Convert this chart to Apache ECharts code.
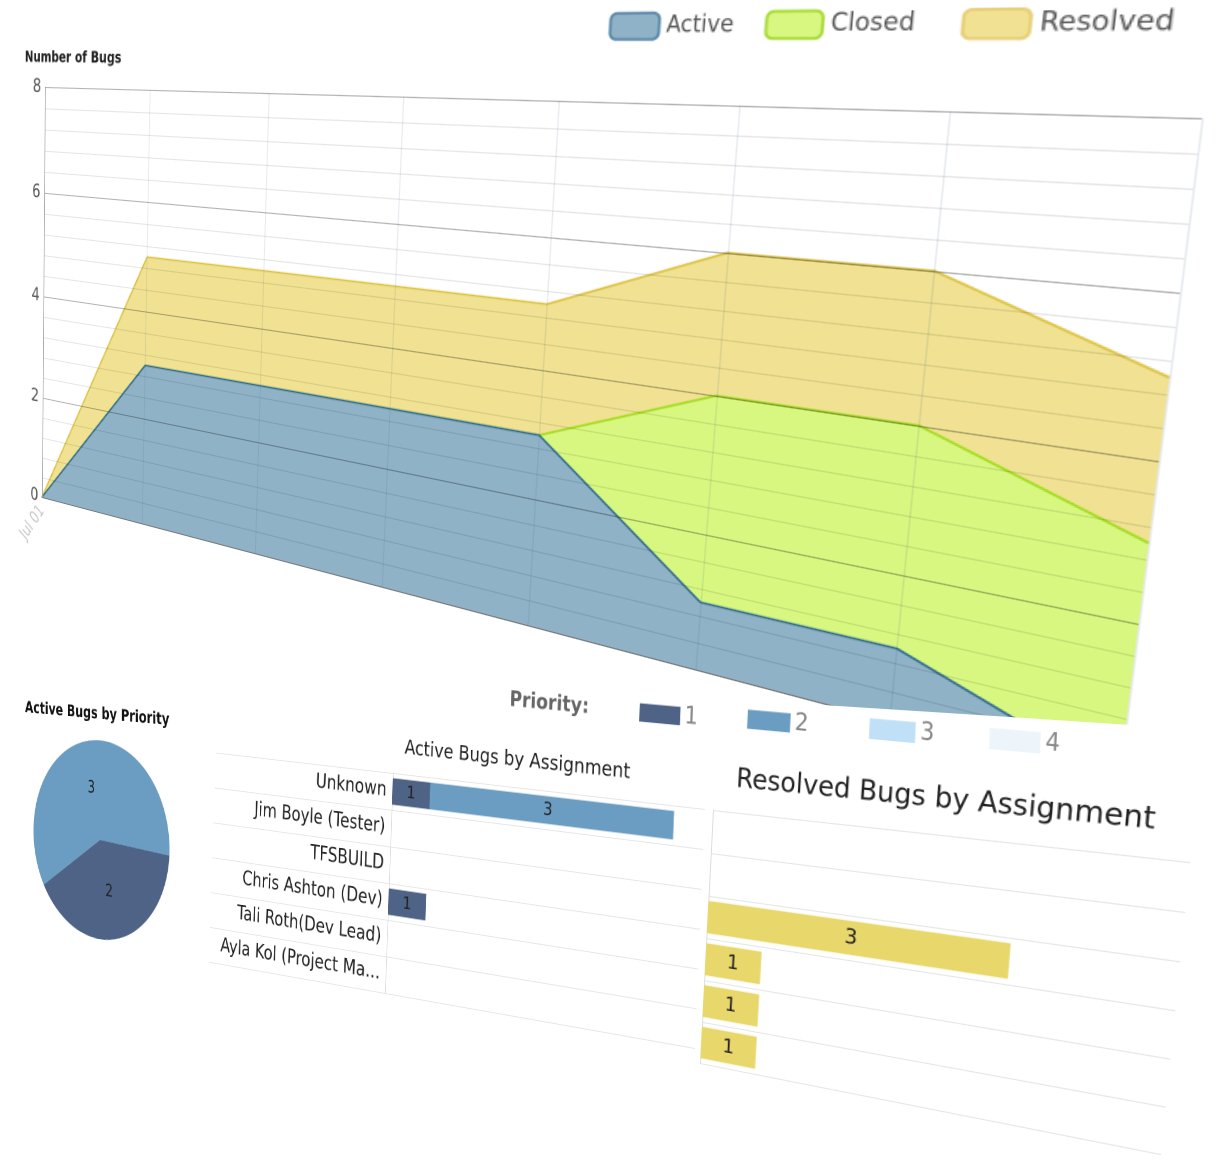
<!DOCTYPE html>
<html lang="en">
<head>
<meta charset="UTF-8">
<title>Bug Status</title>
<script src="https://cdn.jsdelivr.net/npm/echarts@6/dist/echarts.min.js"></script>
<style>
    body { margin: 0; background: #fff; width: 1221px; height: 1173px; overflow: hidden; position: relative; }
    .warp { position: absolute; left: 0; top: 0; transform-origin: 0 0; }
    #panel {
        position: absolute; left: 0; top: 0; width: 1221px; height: 1173px; background: #fff;
        clip-path: polygon(0 652px, 1010px 717px, 1221px 731px, 1221px 1173px, 0 1173px);
    }
</style>
</head>
<body>
<div id="trend" class="warp" style="width:1000px;height:620px"></div>
<div id="panel"></div>
<div id="pie" class="warp" style="width:300px;height:330px"></div>
<div id="active" class="warp" style="width:1120px;height:440px"></div>
<div id="resolved" class="warp" style="width:520px;height:340px"></div>

<script>
    // ---- data ----
    const days = ['Jul 01', 'Jul 02', 'Jul 03', 'Jul 04', 'Jul 05', 'Jul 06', 'Jul 07', 'Jul 08'];
    const activeCounts = [0, 3, 3, 3, 3, 1, 1, 0];
    const closedCounts = [0, 0, 0, 0, 0, 3, 3, 3];
    const resolvedCounts = [0, 2, 2, 2, 2, 2, 2, 2];

    const people = ['Unknown', 'Jim Boyle (Tester)', 'TFSBUILD', 'Chris Ashton (Dev)',
        'Tali Roth(Dev Lead)', 'Ayla Kol (Project Ma...'];
    const priorities = ['1', '2', '3', '4'];
    // active bugs per person, one row per priority
    const activeByPriority = [
        [1, 0, 0, 1, 0, 0],
        [3, 0, 0, 0, 0, 0],
        [0, 0, 0, 0, 0, 0],
        [0, 0, 0, 0, 0, 0]
    ];
    const resolvedByPerson = [0, 0, 3, 1, 1, 1];

    const stateNames = ['Active', 'Closed', 'Resolved'];
    const stateFills = ['#8fb2c7', '#d8f780', '#f0e292'];
    const stateLines = ['#2d6a8e', '#9fdc1a', '#dcc240'];
    const stateBorders = ['#5d8aab', '#a9dc3a', '#e8cf78'];
    const prioColors = ['#4e6386', '#6b9cc1', '#bfe0f7', '#edf5fb'];

    const narrow = "'Liberation Sans Narrow', 'DejaVu Sans Condensed', 'Open Sans', sans-serif";
    const sans = "'DejaVu Sans', Verdana, sans-serif";

    // ---- perspective helpers: map a flat chart onto a quad of the page ----
    function homography(src, dst) {
        const A = [], b = [];
        for (let i = 0; i < 4; i++) {
            const [x, y] = src[i], [X, Y] = dst[i];
            A.push([x, y, 1, 0, 0, 0, -x * X, -y * X]); b.push(X);
            A.push([0, 0, 0, x, y, 1, -x * Y, -y * Y]); b.push(Y);
        }
        for (let c = 0; c < 8; c++) {
            let p = c;
            for (let r = c + 1; r < 8; r++) if (Math.abs(A[r][c]) > Math.abs(A[p][c])) p = r;
            [A[c], A[p]] = [A[p], A[c]];
            [b[c], b[p]] = [b[p], b[c]];
            for (let r = 0; r < 8; r++) {
                if (r === c) continue;
                const f = A[r][c] / A[c][c];
                for (let k = c; k < 8; k++) A[r][k] -= f * A[c][k];
                b[r] -= f * b[c];
            }
        }
        return b.map((v, i) => v / A[i][i]).concat([1]);
    }

    function mapPt(h, x, y) {
        const w = h[6] * x + h[7] * y + 1;
        return [(h[0] * x + h[1] * y + h[2]) / w, (h[3] * x + h[4] * y + h[5]) / w];
    }

    // warps the element and returns the page -> flat mapping
    function warp(el, src, dst) {
        const h = homography(src, dst);
        el.style.transform = 'matrix3d(' +
            [h[0], h[3], 0, h[6], h[1], h[4], 0, h[7], 0, 0, 1, 0, h[2], h[5], 0, 1].join(',') + ')';
        return homography(dst, src);
    }

    function fontAt(inv, x, y, px) {
        return mapPt(inv, x, y + px)[1] - mapPt(inv, x, y)[1];
    }

    function legendAt(inv, name, box, extra) {
        const a = mapPt(inv, box[0], box[1]), b = mapPt(inv, box[2], box[3]);
        return Object.assign({
            data: [name], left: a[0], top: a[1], itemWidth: b[0] - a[0], itemHeight: b[1] - a[1],
            icon: 'roundRect', padding: 0, selectedMode: false
        }, extra);
    }

    function hideZero(p) {
        return p.value > 0 ? p.value : '';
    }

    // ---- bug trend (stacked area) ----
    const trendEl = document.getElementById('trend');
    const trendInv = warp(trendEl,
        [[60, 90], [960, 90], [960, 510], [60, 510]],
        [[45, 87], [1202, 118], [1119, 781], [42, 497]]);
    const trendChart = echarts.init(trendEl, null, {devicePixelRatio: 2});
    const stateBoxes = [[610, 12, 657, 38], [766, 10, 820, 37], [963, 8, 1027, 37]];
    const titlePos = mapPt(trendInv, 25, 50);

    trendChart.setOption({
        animation: false,
        title: {
            text: 'Number of Bugs', left: titlePos[0], top: titlePos[1], padding: 0,
            textStyle: {fontSize: fontAt(trendInv, 25, 50, 15), fontWeight: 'bold', color: '#222', fontFamily: narrow}
        },
        legend: stateNames.map((n, i) => legendAt(trendInv, n, stateBoxes[i], {
            itemStyle: {borderColor: stateBorders[i], borderWidth: 2},
            itemGap: 4,
            textStyle: {fontSize: fontAt(trendInv, 660, 12, 23), color: '#555', fontFamily: narrow}
        })),
        grid: {left: 60, top: 90, width: 900, height: 420},
        xAxis: {
            type: 'category', data: days, boundaryGap: false, z: 5,
            axisLine: {lineStyle: {color: '#777'}},
            axisTick: {show: false},
            axisLabel: {rotate: 55, margin: 12, interval: i => i === 0, color: '#c8c8c8', fontSize: 18, fontFamily: narrow},
            splitLine: {show: true, interval: 0, lineStyle: {color: 'rgba(60,90,130,0.13)'}}
        },
        yAxis: {
            type: 'value', min: 0, max: 8, interval: 2, z: 5,
            axisLine: {show: true, lineStyle: {color: '#aaa'}},
            axisTick: {show: false},
            axisLabel: {color: '#555', fontSize: 19, margin: 5, fontFamily: narrow},
            splitLine: {lineStyle: {color: 'rgba(0,0,0,0.3)'}},
            minorTick: {show: false, splitNumber: 5},
            minorSplitLine: {show: true, lineStyle: {color: 'rgba(0,0,0,0.1)'}}
        },
        series: [activeCounts, closedCounts, resolvedCounts].map((vals, i) => ({
            name: stateNames[i], type: 'line', stack: 'bugs', data: vals,
            z: 4 - i, symbol: 'none', color: stateFills[i],
            lineStyle: {color: stateLines[i], width: 1.5},
            areaStyle: {color: stateFills[i], opacity: 1}
        }))
    });

    // ---- active bugs by priority (pie) ----
    const pieEl = document.getElementById('pie');
    const pieInv = warp(pieEl,
        [[35, 80], [265, 80], [265, 310], [35, 310]],
        [[33, 734], [169, 747], [170, 950], [34, 929]]);
    const pieChart = echarts.init(pieEl, null, {devicePixelRatio: 2});
    const pieTitle = mapPt(pieInv, 25, 700);
    const pieData = priorities.map((p, i) => ({
        name: 'Priority ' + p,
        value: activeByPriority[i].reduce((s, v) => s + v, 0),
        itemStyle: {color: prioColors[i]}
    })).filter(d => d.value > 0);

    pieChart.setOption({
        animation: false,
        title: {
            text: 'Active Bugs by Priority', left: pieTitle[0], top: pieTitle[1], padding: 0,
            textStyle: {fontSize: fontAt(pieInv, 25, 702, 16), fontWeight: 'bold', color: '#111', fontFamily: sans}
        },
        series: [{
            type: 'pie', center: [150, 195], radius: 115, startAngle: -4, clockwise: true,
            data: pieData,
            label: {position: 'inside', formatter: '{c}', color: '#222', fontSize: fontAt(pieInv, 80, 790, 17), fontFamily: sans},
            labelLine: {show: false}
        }]
    });

    // ---- active bugs by assignment (stacked bars) + priority legend ----
    const activeEl = document.getElementById('active');
    const activeInv = warp(activeEl,
        [[260, 180], [660, 180], [660, 420], [260, 420]],
        [[393, 773], [705, 809], [695, 1048], [385, 993]]);
    const activeChart = echarts.init(activeEl, null, {devicePixelRatio: 2});
    const activeTitle = mapPt(activeInv, 405, 738);
    const prioLabel = mapPt(activeInv, 510, 690);
    const prioBoxes = [[640, 700, 680, 722], [748, 707, 790, 730], [870, 716, 915, 741], [990, 726, 1040, 752]];

    activeChart.setOption({
        animation: false,
        title: [{
            text: 'Active Bugs by Assignment', left: activeTitle[0], top: activeTitle[1], padding: 0,
            textStyle: {fontSize: fontAt(activeInv, 405, 740, 20), fontWeight: 'normal', color: '#222', fontFamily: sans}
        }, {
            text: 'Priority:', left: prioLabel[0], top: prioLabel[1], padding: 0,
            textStyle: {fontSize: fontAt(activeInv, 510, 692, 21), fontWeight: 'bold', color: '#666', fontFamily: sans}
        }],
        legend: priorities.map((p, i) => legendAt(activeInv, p, prioBoxes[i], {
            icon: 'rect', itemGap: 6,
            textStyle: {fontSize: fontAt(activeInv, prioBoxes[i][2], prioBoxes[i][1], 25), color: '#888', fontFamily: sans}
        })),
        grid: [
            {left: 260, top: 180, width: 400, height: 240},
            {left: -10, top: 180, width: 670, height: 240}
        ],
        xAxis: [
            {gridIndex: 0, type: 'value', min: 0.5, max: 4.35, show: false},
            {gridIndex: 1, type: 'value', show: false}
        ],
        yAxis: [{
            gridIndex: 0, type: 'category', data: people, inverse: true,
            axisLine: {lineStyle: {color: '#dcdcdc'}},
            axisTick: {show: false},
            splitLine: {show: false},
            axisLabel: {fontSize: fontAt(activeInv, 370, 780, 20), color: '#222', margin: 8, fontFamily: sans}
        }, {
            gridIndex: 1, type: 'category', data: people, inverse: true,
            axisLine: {show: false}, axisTick: {show: false}, axisLabel: {show: false},
            splitLine: {show: true, lineStyle: {color: '#e6e6e6'}}
        }],
        series: priorities.map((p, i) => ({
            name: p, type: 'bar', stack: 'prio', data: activeByPriority[i],
            xAxisIndex: 0, yAxisIndex: 0, barWidth: '72%',
            itemStyle: {color: prioColors[i]},
            label: {show: true, position: 'inside', formatter: hideZero, color: '#222', fontSize: 19, fontFamily: sans}
        }))
    });

    // ---- resolved bugs by assignment ----
    const resolvedEl = document.getElementById('resolved');
    const resolvedInv = warp(resolvedEl,
        [[40, 80], [460, 80], [460, 320], [40, 320]],
        [[713, 810], [1190, 862], [1161, 1154], [700, 1063]]);
    const resolvedChart = echarts.init(resolvedEl, null, {devicePixelRatio: 2});
    const resolvedTitle = mapPt(resolvedInv, 737, 766);

    resolvedChart.setOption({
        animation: false,
        title: {
            text: 'Resolved Bugs by Assignment', left: resolvedTitle[0], top: resolvedTitle[1], padding: 0,
            textStyle: {fontSize: fontAt(resolvedInv, 737, 770, 27), fontWeight: 'normal', color: '#222', fontFamily: sans}
        },
        grid: {left: 40, top: 80, width: 420, height: 240},
        xAxis: {type: 'value', min: 0.5, max: 4.2, show: false},
        yAxis: {
            type: 'category', data: people, inverse: true,
            axisLine: {lineStyle: {color: '#dcdcdc'}},
            axisTick: {show: false}, axisLabel: {show: false},
            splitLine: {show: true, lineStyle: {color: '#e6e6e6'}}
        },
        series: [{
            name: 'Resolved', type: 'bar', data: resolvedByPerson, barWidth: '76%',
            itemStyle: {color: '#e8d76b'},
            label: {show: true, position: 'inside', formatter: hideZero, color: '#222', fontSize: 19, fontFamily: sans}
        }]
    });
</script>
</body>
</html>
